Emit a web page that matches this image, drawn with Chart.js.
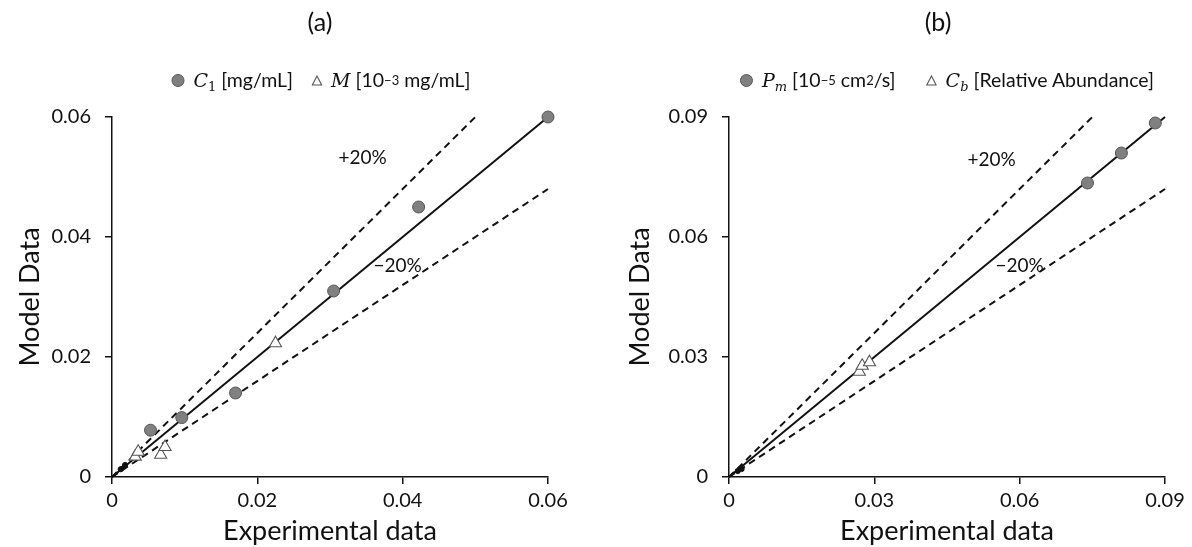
<!DOCTYPE html>
<html>
<head>
<meta charset="utf-8">
<script src="https://cdn.jsdelivr.net/npm/chart.js@4/dist/chart.umd.min.js"></script>
<style>
  html, body { margin: 0; padding: 0; background: #fff; }
  body { width: 1192px; height: 547px; position: relative; overflow: hidden; font-family: Lato, "Liberation Sans", sans-serif; color: #111; }
  canvas { position: absolute; top: 0; }
  #ca { left: 0; }
  #cb { left: 596px; }
  .ptitle { position: absolute; top: 6px; font-size: 25px; transform: translateX(-50%); white-space: nowrap; }
  .legend { position: absolute; top: 67px; font-size: 19.5px; transform: translateX(-50%); white-space: nowrap; display: flex; align-items: center; line-height: 26px; }
  .legend .item { display: flex; align-items: center; }
  .legend .dot { width: 11px; height: 11px; border-radius: 50%; background: #808080; border: 1px solid #555; display: inline-block; margin-right: 9px; }
  .legend svg { margin-right: 9px; }
  .math { font-family: "DejaVu Serif", "Liberation Serif", serif; font-style: italic; font-size: 19px; }
  .math sub { font-size: 13px; font-style: normal; vertical-align: -0.3em; line-height: 0; }
  .math sub.it { font-style: italic; }
  sup { font-size: 13px; vertical-align: 0.75em; line-height: 0; }
</style>
</head>
<body>
<canvas id="ca" width="596" height="547"></canvas>
<canvas id="cb" width="596" height="547"></canvas>

<div class="ptitle" style="left:320px">(a)</div>
<div class="legend" style="left:321px">
  <span class="item"><span class="dot"></span><span class="math">C<sub>1</sub></span>&nbsp;[mg/mL]</span>
  <span class="item" style="margin-left:18px"><svg width="11" height="11" viewBox="0 0 11 11"><polygon points="5.5,1 10.2,10 0.8,10" fill="#fff" stroke="#555" stroke-width="1.1"/></svg><span class="math">M</span>&nbsp;[10<sup>−3</sup>&nbsp;mg/mL]</span>
</div>

<div class="ptitle" style="left:938px">(b)</div>
<div class="legend" style="left:947px">
  <span class="item"><span class="dot"></span><span class="math">P<sub class="it">m</sub></span>&nbsp;[10<sup>−5</sup>&nbsp;cm<sup>2</sup>/s]</span>
  <span class="item" style="margin-left:30px"><svg width="11" height="11" viewBox="0 0 11 11"><polygon points="5.5,1 10.2,10 0.8,10" fill="#fff" stroke="#555" stroke-width="1.1"/></svg><span class="math">C<sub class="it">b</sub></span>&nbsp;[Relative Abundance]</span>
</div>

<script>
// Panel (a): concentration C1 and molar quantity M
const ticksA = [0, 0.02, 0.04, 0.06];
const tickLabelsA = ['0', '0.02', '0.04', '0.06'];
const c1Experimental = [0.0053, 0.0096, 0.0170, 0.0305, 0.0422, 0.0600];
const c1Model        = [0.0078, 0.0099, 0.0140, 0.0310, 0.0450, 0.0600];
const mExperimental  = [0.0032, 0.0036, 0.0067, 0.0073, 0.0225];
const mModel         = [0.0034, 0.0042, 0.0037, 0.0050, 0.0223];
const originExpA     = [0.0012, 0.0018];
const originModelA   = [0.0013, 0.0020];

// Panel (b): permeability Pm and relative abundance Cb
const ticksB = [0, 0.03, 0.06, 0.09];
const tickLabelsB = ['0', '0.03', '0.06', '0.09'];
const pmExperimental = [0.0740, 0.0810, 0.0880];
const pmModel        = [0.0735, 0.0810, 0.0885];
const cbExperimental = [0.0269, 0.0275, 0.0290];
const cbModel        = [0.0263, 0.0278, 0.0287];
const originExpB     = [0.0018, 0.0026];
const originModelB   = [0.0015, 0.0020];

// Parity line and ±20% bands
const bandUpper = 1.2;
const bandLower = 0.8;

const pts = (xs, ys) => xs.map((x, i) => ({ x, y: ys[i] }));

function lineSet(data, dashed) {
  return {
    type: 'scatter', data, showLine: true, borderColor: '#111', borderWidth: 2,
    borderDash: dashed ? [7, 5] : [], pointRadius: 0, fill: false, order: 3, clip: false
  };
}

function buildChart(canvasId, cfg) {
  const max = cfg.ticks[cfg.ticks.length - 1];
  const datasets = [
    lineSet([{ x: 0, y: 0 }, { x: max, y: max }], false),
    lineSet([{ x: 0, y: 0 }, { x: max / bandUpper, y: max }], true),
    lineSet([{ x: 0, y: 0 }, { x: max, y: max * bandLower }], true),
    { type: 'scatter', data: pts(cfg.originX, cfg.originY), pointRadius: 2.6, pointBackgroundColor: '#111', pointBorderColor: '#111', order: 2, clip: false },
    { type: 'scatter', data: pts(cfg.triX, cfg.triY), pointStyle: 'triangle', pointRadius: 7, pointBackgroundColor: '#fff', pointBorderColor: '#555', pointBorderWidth: 1.1, order: 1, clip: false },
    { type: 'scatter', data: pts(cfg.dotX, cfg.dotY), pointStyle: 'circle', pointRadius: 6, pointBackgroundColor: '#808080', pointBorderColor: '#555', pointBorderWidth: 1, order: 0, clip: false }
  ];

  const bandLabels = {
    id: 'bandLabels',
    afterDatasetsDraw(chart) {
      const { ctx, scales: { x, y } } = chart;
      ctx.save();
      ctx.font = '19px Lato, "Liberation Sans", sans-serif';
      ctx.fillStyle = '#111';
      ctx.textAlign = 'center';
      ctx.textBaseline = 'middle';
      cfg.labels.forEach(l => ctx.fillText(l.text, x.getPixelForValue(l.x), y.getPixelForValue(l.y)));
      ctx.restore();
    }
  };

  const tickFont = { family: 'Lato, "Liberation Sans", sans-serif', size: 20 };
  const titleFont = { family: 'Lato, "Liberation Sans", sans-serif', size: 27 };
  const setTicks = (scale) => { scale.ticks = cfg.ticks.map(v => ({ value: v })); };
  const fmt = (v) => { const i = cfg.ticks.findIndex(t => Math.abs(t - v) < 1e-9); return i >= 0 ? cfg.tickLabels[i] : ''; };

  return new Chart(document.getElementById(canvasId), {
    type: 'scatter',
    data: { datasets },
    options: {
      responsive: false,
      animation: false,
      layout: { padding: { top: 117, right: cfg.padRight, left: 0, bottom: 0 } },
      plugins: { legend: { display: false }, tooltip: { enabled: false }, title: { display: false } },
      scales: {
        x: {
          type: 'linear', min: 0, max,
          afterBuildTicks: setTicks,
          afterFit: (s) => { s.height = 70; },
          border: { color: '#111', width: 1.5 },
          grid: { drawOnChartArea: false, drawTicks: true, tickLength: 7, color: '#111', lineWidth: 1.5 },
          ticks: { callback: fmt, font: tickFont, color: '#111', padding: 5, maxRotation: 0 },
          title: { display: true, text: 'Experimental data', font: titleFont, color: '#111', padding: { top: 0, bottom: 0 } }
        },
        y: {
          type: 'linear', min: 0, max,
          afterBuildTicks: setTicks,
          afterFit: (s) => { s.width = cfg.yWidth; },
          border: { color: '#111', width: 1.5 },
          grid: { drawOnChartArea: false, drawTicks: true, tickLength: 7, color: '#111', lineWidth: 1.5 },
          ticks: { callback: fmt, font: tickFont, color: '#111', padding: 14 },
          title: { display: true, text: 'Model Data', font: titleFont, color: '#111', padding: { top: cfg.yTitlePad, bottom: 0 } }
        }
      }
    },
    plugins: [bandLabels]
  });
}

buildChart('ca', {
  ticks: ticksA, tickLabels: tickLabelsA,
  dotX: c1Experimental, dotY: c1Model,
  triX: mExperimental, triY: mModel,
  originX: originExpA, originY: originModelA,
  padRight: 48, yWidth: 112, yTitlePad: 14,
  labels: [{ text: '+20%', x: 0.0345, y: 0.0532 }, { text: '\u221220%', x: 0.0393, y: 0.0352 }]
});

buildChart('cb', {
  ticks: ticksB, tickLabels: tickLabelsB,
  dotX: pmExperimental, dotY: pmModel,
  triX: cbExperimental, triY: cbModel,
  originX: originExpB, originY: originModelB,
  padRight: 27, yWidth: 133, yTitlePad: 28,
  labels: [{ text: '+20%', x: 0.0542, y: 0.0793 }, { text: '\u221220%', x: 0.0600, y: 0.0527 }]
});
</script>
</body>
</html>
